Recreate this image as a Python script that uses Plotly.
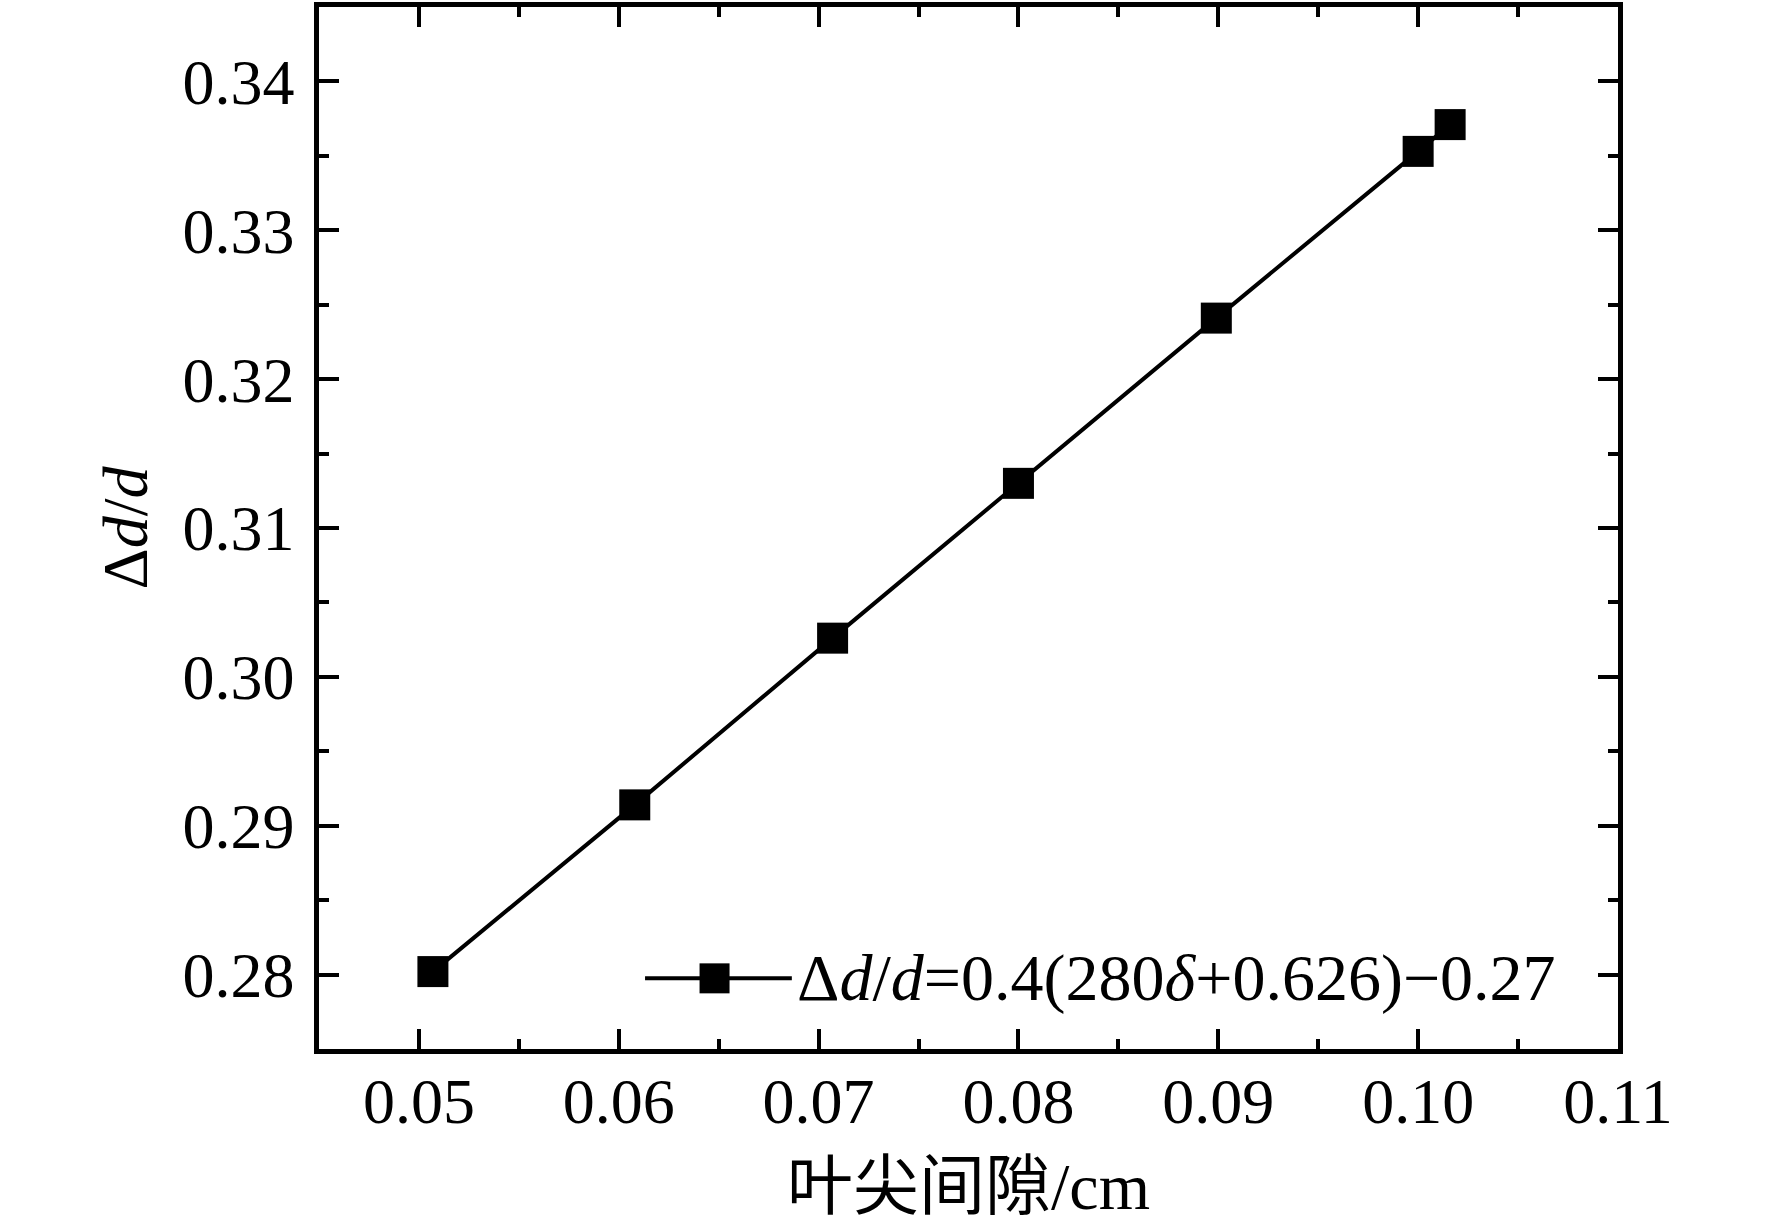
import plotly.graph_objects as go

# tip clearance (cm) and relative change
gap = [0.0507, 0.0608, 0.0707, 0.0800, 0.0899, 0.1000, 0.1016]
ratio = [0.2802, 0.2914, 0.3026, 0.3130, 0.3241, 0.3353, 0.3371]
series_name = "Δ<i>d</i>/<i>d</i>=0.4(280<i>δ</i>+0.626)−0.27"

font_main = "Liberation Serif, Times New Roman, Noto Sans CJK SC"
fsize = 64

fig = go.Figure()
fig.add_trace(go.Scatter(
    x=gap, y=ratio, mode="lines+markers", name=series_name,
    line=dict(color="black", width=4),
    marker=dict(symbol="square", size=31, color="black"),
    showlegend=False,
))

axis_common = dict(
    showline=True, linewidth=4.5, linecolor="black", mirror="ticks",
    ticks="inside", ticklen=20, tickwidth=4, tickcolor="black",
    showgrid=False, zeroline=False, tickformat=".2f",
    tickfont=dict(family=font_main, size=fsize, color="black"),
    minor=dict(ticks="inside", ticklen=10, tickwidth=4, tickcolor="black", dtick=0.005),
)

fig.update_xaxes(range=[0.045, 0.11], dtick=0.01, tick0=0.05,
                 title=dict(text="叶尖间隙/cm", font=dict(family=font_main, size=66, color="black"), standoff=29),
                 ticklabelstandoff=-8, **axis_common)
fig.update_yaxes(range=[0.275, 0.345], dtick=0.01, tick0=0.28,
                 title=dict(text="Δ<i>d</i>/<i>d</i>", font=dict(family=font_main, size=fsize, color="black"), standoff=16),
                 ticklabelstandoff=7, **axis_common)

# legend key drawn by hand so the square matches the plot markers
leg_y = 0.0678
fig.add_shape(type="line", xref="paper", yref="paper", x0=0.251, x1=0.364, y0=leg_y, y1=leg_y,
              line=dict(color="black", width=4))
fig.add_shape(type="rect", xref="paper", yref="paper", xsizemode="pixel", ysizemode="pixel",
              xanchor=0.3045, yanchor=leg_y, x0=-15, x1=15, y0=-15, y1=15,
              fillcolor="black", line=dict(width=0))
fig.add_annotation(xref="paper", yref="paper", x=0.3666, y=leg_y, xanchor="left", yanchor="middle",
                   text=series_name, showarrow=False,
                   font=dict(family=font_main, size=66, color="black"))

fig.update_layout(
    width=1772, height=1230,
    margin=dict(l=319, r=154, t=2, b=181),
    plot_bgcolor="white", paper_bgcolor="white",
    showlegend=False,
)

# drop the default body margin so the figure sits at the page corner
fig.write_html("out.html", config={"displayModeBar": False},
               post_script="document.body.style.margin='0';")
